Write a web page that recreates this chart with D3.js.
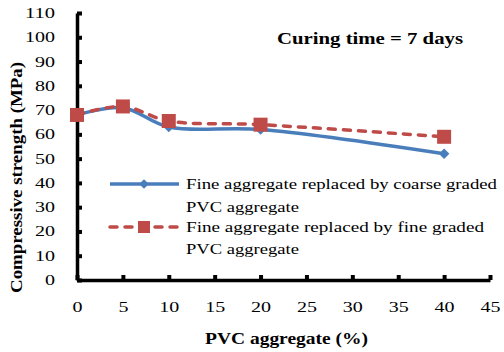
<!DOCTYPE html>
<html><head><meta charset="utf-8">
<script src="https://cdn.jsdelivr.net/npm/d3@7"></script>
<style>
html,body{margin:0;padding:0;background:#fff;}
svg{display:block;}
text{font-family:"Liberation Serif","DejaVu Serif",serif;fill:#000;}
</style></head>
<body>
<svg id="chart" width="504" height="352"></svg>
<script>
// PVC replacement level (%)
const pvcLevels = [0, 5, 10, 20, 40];
// Compressive strength at 7 days (MPa)
const coarseGraded = [68, 71, 63, 62, 52];
const fineGraded = [68, 71.5, 65.5, 64, 59];
const xTicks = [0, 5, 10, 15, 20, 25, 30, 35, 40, 45];
const yTicks = [0, 10, 20, 30, 40, 50, 60, 70, 80, 90, 100, 110];
const seriesNames = ["Fine aggregate replaced by coarse graded", "Fine aggregate replaced by fine graded"];

const svg = d3.select("#chart");
const x = d3.scaleLinear().domain([0, 45]).range([77, 490]);
const y = d3.scaleLinear().domain([0, 110]).range([280, 13]);

const blue = "#4a7ebb", red = "#be4b48";
const serif = "Liberation Serif, DejaVu Serif, serif";

// Axes with inward ticks
const xAxis = d3.axisBottom(x).tickValues(xTicks).tickSizeInner(-5).tickSizeOuter(0).tickPadding(22);
const yAxis = d3.axisLeft(y).tickValues(yTicks).tickSizeInner(-5).tickSizeOuter(0).tickPadding(22);

const gx = svg.append("g").attr("transform", "translate(0,280)").call(xAxis);
const gy = svg.append("g").attr("transform", "translate(77,0)").call(yAxis);
[gx, gy].forEach(g => {
  g.select(".domain").attr("stroke", "#000").attr("stroke-width", 3.5);
  g.selectAll(".tick line").attr("stroke", "#000").attr("stroke-width", 4);
  g.selectAll(".tick text").attr("font-size", 14).attr("font-family", serif).attr("fill", "#000")
    .attr("lengthAdjust", "spacingAndGlyphs")
    .attr("textLength", d => String(d).length * 10);
});
gy.selectAll(".tick text").attr("x", -22);
gx.selectAll(".tick text").attr("y", 22).attr("dy", "0.71em");

// Series lines
const line = d3.line().x(d => x(d[0])).y(d => y(d[1])).curve(d3.curveCatmullRom.alpha(0.5));
const coarsePts = pvcLevels.map((v, i) => [v, coarseGraded[i]]);
const finePts = pvcLevels.map((v, i) => [v, fineGraded[i]]);

svg.append("path").datum(coarsePts).attr("d", line)
  .attr("fill", "none").attr("stroke", blue).attr("stroke-width", 3.5);
svg.append("g").selectAll("path").data(coarsePts).join("path")
  .attr("d", d3.symbol(d3.symbolDiamond2, 70))
  .attr("transform", d => `translate(${x(d[0])},${y(d[1])})`)
  .attr("fill", blue);

svg.append("path").datum(finePts).attr("d", line)
  .attr("fill", "none").attr("stroke", red).attr("stroke-width", 3.5)
  .attr("stroke-dasharray", "7,8").attr("stroke-linecap", "round");
svg.append("g").selectAll("rect").data(finePts).join("rect")
  .attr("x", d => x(d[0]) - 7).attr("y", d => y(d[1]) - 7)
  .attr("width", 14).attr("height", 14).attr("fill", red);

// Legend
const lg = svg.append("g");
lg.append("line").attr("x1", 110).attr("x2", 179).attr("y1", 184).attr("y2", 184)
  .attr("stroke", blue).attr("stroke-width", 3.5);
lg.append("path").attr("d", d3.symbol(d3.symbolDiamond2, 60)).attr("transform", "translate(144,184)").attr("fill", blue);
lg.append("line").attr("x1", 110).attr("x2", 179).attr("y1", 227).attr("y2", 227)
  .attr("stroke", red).attr("stroke-width", 3.5).attr("stroke-dasharray", "7,8").attr("stroke-linecap", "round");
lg.append("rect").attr("x", 138).attr("y", 221).attr("width", 12).attr("height", 12).attr("fill", red);

const legendText = [[seriesNames[0], 184, 311], ["PVC aggregate", 207, 113], [seriesNames[1], 227, 298], ["PVC aggregate", 249, 113]];
lg.selectAll("text").data(legendText).join("text")
  .attr("x", 186).attr("y", d => d[1]).attr("dy", "0.35em")
  .attr("font-size", 14).attr("lengthAdjust", "spacingAndGlyphs")
  .attr("textLength", d => d[2]).text(d => d[0]);

// Annotation and axis titles
svg.append("text").attr("x", 277).attr("y", 44)
  .attr("font-size", 16).attr("font-weight", "bold")
  .attr("lengthAdjust", "spacingAndGlyphs").attr("textLength", 186)
  .text("Curing time = 7 days");
svg.append("text").attr("x", 205).attr("y", 344)
  .attr("font-size", 16).attr("font-weight", "bold")
  .attr("lengthAdjust", "spacingAndGlyphs").attr("textLength", 163)
  .text("PVC aggregate (%)");
svg.append("text").attr("transform", "translate(22,293) rotate(-90)")
  .attr("font-size", 16).attr("font-weight", "bold")
  .attr("lengthAdjust", "spacingAndGlyphs").attr("textLength", 231)
  .text("Compressive strength (MPa)");
</script>
</body></html>
